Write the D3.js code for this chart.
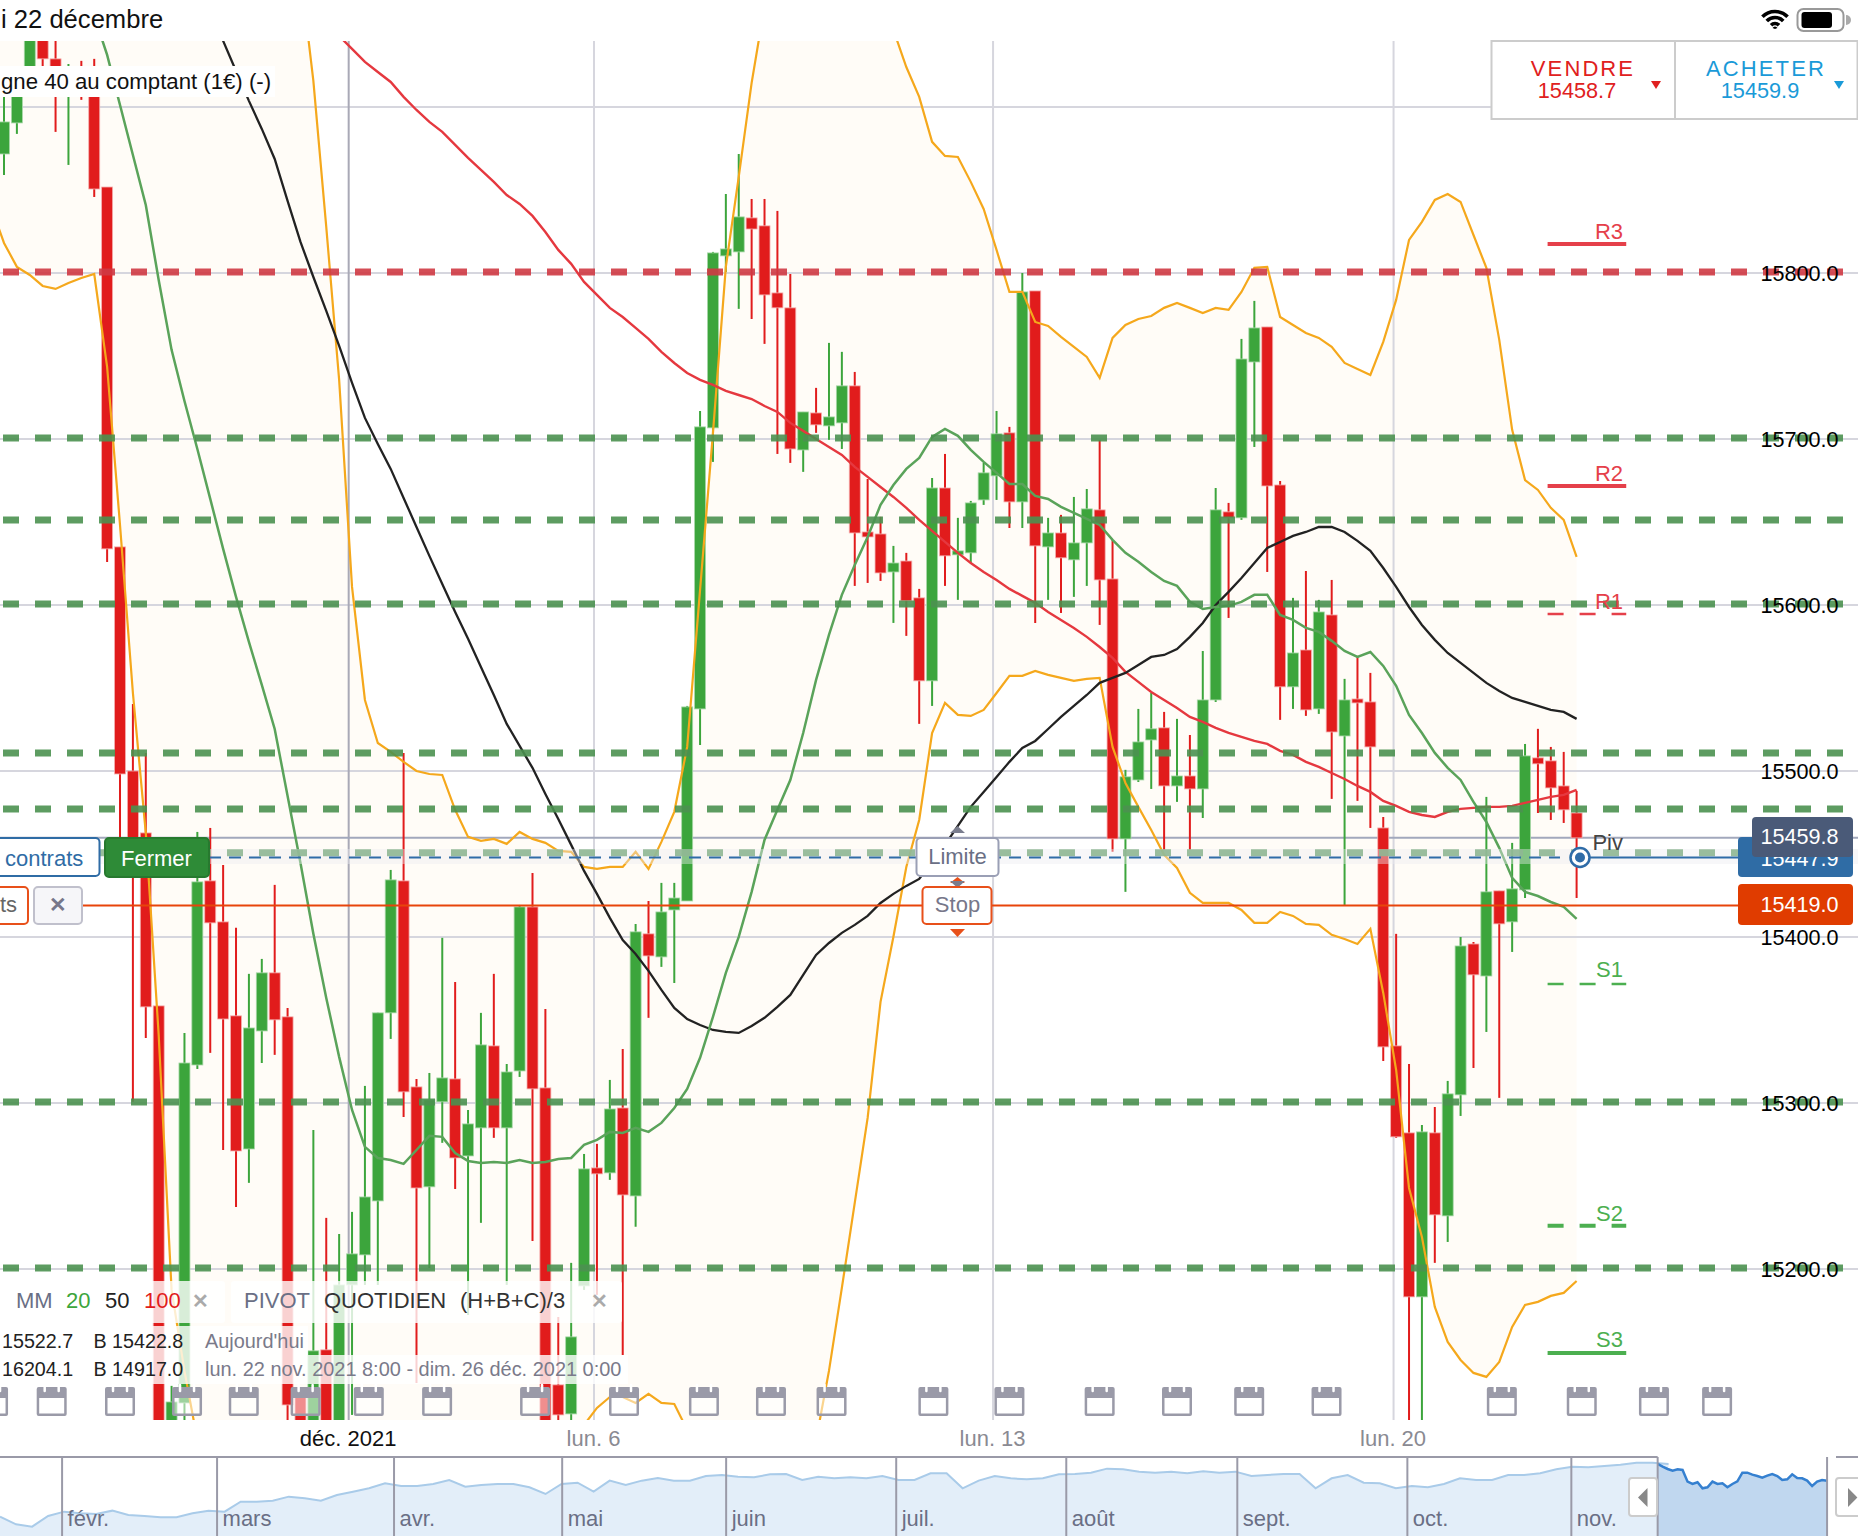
<!DOCTYPE html>
<html>
<head>
<meta charset="utf-8">
<title>Allemagne 40 au comptant</title>
<script src="https://cdn.jsdelivr.net/npm/d3@7"></script>
<style>
body { margin: 0; background: #fff; }
svg { display: block; }
text { font-family: "Liberation Sans", Arial, sans-serif; }
</style>
</head>
<body>
<svg class="chart"></svg>
<script>
// candles, left to right
var opens = [15871.7,15890.4,15922.3,15949.4,15929.0,15911.5,15921.1,15916.3,15851.8,15635.0,
15500.0,15462.7,15358.5,15097.0,15119.3,15322.9,15433.8,15409.1,15352.5,15272.3,
15343.4,15378.4,15351.9,15124.2,15091.0,15151.3,15091.0,15190.4,15208.5,15241.0,
15354.3,15433.8,15309.7,15249.5,15300.7,15314.5,15268.1,15285.0,15334.4,15285.0,
15319.3,15418.1,15309.1,15130.2,15112.7,15189.8,15260.9,15257.9,15297.0,15244.0,
15401.9,15388.0,15416.3,15421.7,15537.4,15706.7,15810.3,15812.7,15833.2,15828.4,
15788.0,15779.0,15693.4,15715.7,15707.9,15709.7,15732.0,15644.0,15642.8,15619.9,
15626.5,15604.3,15554.3,15670.5,15630.2,15631.4,15663.3,15677.8,15703.7,15662.1,
15789.2,15635.0,15643.4,15627.2,15637.4,15657.3,15615.7,15459.1,15494.6,15518.7,
15526.0,15491.0,15497.0,15489.2,15542.8,15656.1,15652.5,15746.4,15767.5,15672.3,
15550.7,15572.9,15537.4,15594.0,15521.1,15543.4,15541.6,15465.7,15334.4,15282.0,
15183.2,15282.0,15232.0,15304.9,15395.8,15376.5,15427.8,15409.1,15428.4,15507.9,
15506.1,15491.0,15474.7];
var highs = [15913.3,15917.5,15952.5,15949.4,15946.4,15925.9,15927.8,15929.0,15851.8,15635.0,
15540.4,15510.9,15358.5,15129.6,15342.2,15463.3,15465.7,15443.4,15405.5,15377.8,
15386.8,15431.4,15357.3,15124.2,15283.8,15230.8,15221.1,15234.4,15310.3,15354.3,
15440.4,15510.9,15314.5,15318.1,15399.5,15372.9,15295.8,15354.3,15377.8,15323.5,
15419.3,15438.6,15356.7,15171.1,15203.7,15269.3,15275.4,15313.9,15332.6,15407.9,
15421.7,15432.6,15432.6,15539.2,15716.9,15812.7,15847.6,15871.7,15844.6,15844.6,
15837.4,15799.4,15716.3,15730.8,15757.9,15752.5,15740.4,15675.9,15653.1,15635.6,
15631.4,15609.7,15676.5,15691.0,15652.5,15662.7,15685.6,15716.9,15707.3,15800.0,
15789.2,15652.5,15654.3,15665.1,15669.9,15699.5,15639.2,15500.7,15537.4,15547.0,
15535.6,15531.4,15521.7,15572.3,15670.5,15661.5,15760.3,15783.2,15767.5,15674.7,
15604.3,15620.5,15603.1,15615.1,15555.5,15568.7,15559.1,15472.3,15401.9,15323.5,
15286.8,15297.6,15313.3,15400.0,15397.0,15484.4,15427.8,15456.7,15516.3,15525.4,
15514.5,15511.5,15488.0];
var lows = [15859.1,15883.8,15922.3,15922.3,15885.0,15865.1,15904.3,15845.8,15625.9,15458.5,
15300.7,15339.2,15036.8,15085.0,15109.1,15320.5,15330.2,15271.7,15237.4,15251.9,
15324.1,15329.0,15106.1,15097.0,15091.0,15091.0,15091.0,15112.1,15190.4,15190.4,
15338.6,15291.6,15131.4,15200.6,15276.0,15248.2,15172.3,15227.8,15279.0,15190.4,
15315.7,15216.9,15091.0,15106.1,15106.1,15187.4,15184.4,15253.7,15148.2,15225.4,
15351.3,15382.0,15372.3,15421.7,15515.7,15686.2,15800.6,15778.4,15772.3,15757.3,
15691.0,15685.6,15680.2,15703.7,15699.5,15694.0,15611.5,15613.3,15614.5,15589.2,
15581.4,15528.4,15539.2,15611.5,15603.1,15625.3,15660.3,15663.3,15646.4,15646.4,
15589.2,15603.1,15595.2,15604.9,15611.5,15588.0,15451.3,15427.2,15493.4,15489.2,
15452.5,15481.4,15452.5,15471.7,15541.6,15592.2,15651.3,15695.2,15619.9,15530.8,
15537.4,15533.2,15534.4,15483.2,15419.3,15482.0,15465.7,15325.3,15279.0,15097.0,
15097.0,15203.7,15216.3,15292.2,15321.1,15342.8,15303.1,15391.0,15423.5,15474.7,
15470.5,15468.7,15423.5];
var closes = [15891.0,15916.3,15952.5,15929.0,15919.3,15921.1,15911.5,15850.6,15633.8,15498.2,
15446.4,15357.9,15060.9,15119.9,15324.1,15433.2,15408.5,15350.6,15271.1,15345.2,
15378.4,15350.1,15118.1,15097.0,15150.7,15091.0,15190.4,15209.1,15243.4,15354.3,
15434.4,15306.7,15248.8,15301.9,15315.1,15266.9,15287.4,15335.0,15285.0,15318.7,
15418.1,15308.5,15091.0,15112.1,15159.1,15260.3,15257.3,15296.4,15244.6,15403.1,
15388.6,15415.1,15423.5,15538.6,15707.3,15812.1,15814.5,15833.8,15826.5,15786.8,
15779.0,15694.0,15716.3,15708.5,15713.3,15732.0,15643.4,15641.0,15619.3,15625.3,
15602.5,15554.3,15670.5,15629.6,15632.6,15661.5,15679.6,15703.1,15662.1,15788.6,
15635.6,15643.4,15628.4,15637.4,15657.9,15615.1,15459.1,15496.5,15517.5,15525.4,
15491.0,15497.0,15489.2,15542.8,15657.3,15652.5,15748.2,15766.9,15671.7,15550.7,
15571.1,15536.8,15595.8,15523.5,15542.8,15541.0,15514.5,15333.8,15279.6,15183.2,
15282.6,15232.6,15305.5,15394.6,15377.2,15427.2,15407.9,15429.0,15509.1,15504.3,
15489.8,15476.6,15459.7];

// bollinger band, null where it runs out of the visible window
var bollUpper = [null,null,null,null,null,null,null,null,null,null,
null,null,null,null,null,null,null,null,null,null,
null,null,null,15981.4,15915.7,15827.8,15735.6,15610.9,15542.8,15516.9,
15511.5,15505.5,15500.0,15498.2,15497.6,15476.6,15460.3,15457.9,15459.1,15456.1,
15463.3,15459.1,15456.7,15451.9,15451.3,15442.2,15441.0,15442.2,15442.2,15451.3,
15441.0,15457.3,15475.4,15514.5,15609.1,15703.7,15803.7,15857.9,15914.5,15960.9,
16006.7,null,null,null,null,null,null,null,15970.5,15946.4,
15924.1,15906.1,15879.0,15870.5,15869.9,15854.9,15838.6,15813.9,15788.6,15788.6,
15770.5,15768.1,15761.5,15755.5,15749.4,15736.8,15760.9,15768.7,15772.3,15774.1,
15779.0,15782.0,15779.0,15775.9,15779.0,15777.8,15788.6,15803.1,15803.7,15773.5,
15768.7,15763.9,15760.9,15755.5,15745.8,15742.2,15738.6,15758.5,15783.8,15819.9,
15830.8,15844.0,15847.6,15842.8,15822.9,15803.1,15759.7,15705.5,15675.3,15669.3,
15658.5,15651.3,15629.0];
var bollLower = [15818.1,15803.7,15798.8,15792.2,15790.4,15794.0,15797.0,15799.4,15743.4,15648.2,
15547.0,15462.7,15341.0,15187.4,15138.6,15097.0,null,null,null,null,
null,null,null,null,null,null,null,null,null,null,
null,null,null,null,null,null,null,null,null,null,
null,null,null,null,null,15106.1,15116.3,15122.9,15122.9,15119.3,
15124.8,15119.3,15118.7,15103.1,null,null,null,null,null,null,
null,null,null,15097.0,15138.6,15188.6,15239.8,15291.0,15360.9,15400.1,
15442.2,15470.5,15522.9,15541.0,15533.8,15533.2,15536.8,15547.0,15557.3,15557.3,
15560.3,15557.9,15556.1,15554.3,15555.5,15556.1,15514.5,15492.8,15478.4,15464.5,
15449.5,15441.6,15426.6,15420.5,15420.5,15420.5,15416.3,15408.5,15408.5,15415.1,
15412.7,15407.9,15407.3,15401.3,15398.8,15395.8,15404.9,15366.3,15319.9,15248.8,
15219.3,15177.2,15156.1,15145.2,15137.4,15135.0,15144.0,15165.1,15178.4,15180.2,
15183.8,15185.6,15192.8];
// the candle just left of the screen edge only shows through its band value
var bollLowerLead = 15840.0;

// moving averages
var ma20 = [null,null,null,null,null,null,null,15954.9,15931.4,15901.2,
15871.1,15841.0,15795.8,15753.7,15722.9,15694.0,15663.9,15633.8,15604.9,15577.8,
15551.9,15525.3,15485.0,15444.6,15401.9,15363.3,15327.8,15295.8,15273.6,15266.9,
15265.7,15263.3,15271.7,15280.2,15279.6,15269.9,15265.1,15263.9,15264.5,15263.9,
15265.7,15263.9,15264.5,15266.3,15266.9,15274.8,15277.8,15282.6,15282.0,15285.0,
15282.6,15288.0,15297.0,15308.5,15327.2,15351.9,15378.4,15400.1,15427.2,15458.5,
15476.6,15494.6,15522.9,15554.9,15582.0,15606.1,15624.1,15641.0,15660.3,15672.3,
15682.0,15688.6,15701.3,15706.1,15701.9,15693.4,15686.2,15679.6,15672.9,15672.9,
15665.7,15663.9,15659.1,15655.5,15651.9,15648.2,15639.2,15631.4,15626.0,15619.9,
15614.5,15611.5,15601.9,15597.6,15598.8,15599.5,15601.9,15606.1,15606.1,15594.0,
15591.0,15586.2,15583.8,15578.4,15572.3,15568.7,15571.7,15563.3,15551.3,15533.8,
15522.9,15510.9,15501.9,15494.6,15481.4,15469.3,15453.7,15435.6,15427.2,15424.7,
15421.1,15418.1,15410.9];
var ma50 = [null,null,null,null,null,null,null,null,null,null,
null,null,null,null,null,null,15959.1,15939.8,15921.7,15903.7,
15886.8,15868.7,15843.4,15818.7,15797.6,15777.2,15756.1,15733.8,15712.7,15697.0,
15682.0,15664.5,15647.0,15629.6,15612.7,15595.8,15579.6,15562.7,15545.8,15528.4,
15515.1,15501.9,15486.2,15471.1,15455.5,15439.8,15426.0,15411.5,15398.2,15389.8,
15379.6,15368.1,15357.3,15350.6,15347.0,15344.0,15342.8,15342.2,15346.4,15351.3,
15357.9,15365.1,15377.2,15389.2,15396.4,15402.5,15407.3,15412.7,15420.5,15426.0,
15430.8,15435.0,15445.2,15455.5,15466.9,15478.4,15487.4,15496.4,15505.5,15513.9,
15518.1,15525.3,15532.6,15539.2,15545.8,15553.1,15556.1,15559.1,15563.9,15568.7,
15569.9,15573.5,15580.8,15589.2,15600.0,15607.9,15616.3,15625.3,15634.4,15638.0,
15641.6,15644.0,15647.0,15647.0,15644.0,15638.6,15632.6,15622.3,15610.9,15598.8,
15588.0,15579.0,15571.1,15565.1,15559.1,15553.1,15548.2,15544.0,15541.6,15539.2,
15536.8,15535.6,15531.4];
var ma100 = [null,null,null,null,null,null,null,null,null,null,
null,null,null,null,null,null,null,null,null,null,
null,null,null,null,null,null,15942.8,15935.0,15927.2,15921.1,
15915.1,15906.1,15898.2,15891.0,15885.0,15877.2,15869.3,15862.1,15854.9,15847.0,
15841.6,15834.4,15824.7,15813.9,15805.5,15794.6,15786.8,15779.0,15773.5,15766.9,
15760.3,15752.5,15745.8,15739.8,15735.6,15732.6,15729.0,15726.5,15724.1,15719.9,
15716.3,15709.7,15704.9,15700.0,15695.2,15690.4,15683.2,15677.2,15671.1,15665.1,
15658.5,15651.3,15644.6,15638.0,15631.4,15625.3,15619.9,15615.1,15609.7,15605.5,
15601.3,15595.8,15591.0,15586.2,15580.8,15574.7,15568.1,15559.7,15553.7,15547.6,
15542.8,15538.0,15532.6,15529.6,15526.0,15522.9,15520.5,15518.1,15516.3,15512.1,
15509.7,15505.5,15502.5,15498.8,15495.2,15491.0,15487.4,15482.0,15479.0,15475.4,
15473.5,15472.3,15475.4,15477.2,15477.8,15478.4,15478.4,15479.0,15480.8,15482.6,
15484.4,15485.6,15488.6];

// year overview under the chart
var navValues = [13989,13676,13581,14016,14193,14125,14098,14234,14057,14016,13962,13962,14125,14234,14193,14601,14601,14642,14805,14737,14642,14873,15009,15145,15349,15240,15240,15322,15485,15213,15281,15322,15322,15186,14914,15322,15376,15009,15458,
15281,15458,15566,15458,15458,15648,15689,15621,15594,15716,15730,15485,15621,15553,15594,15553,15648,15485,15485,15757,15757,15145,15458,15648,15553,15512,15553,15716,15730,15784,15947,15920,15825,15784,15825,15757,15838,15784,15825,
15648,15689,15730,15730,15145,15553,15689,15376,15349,15145,15240,15186,15322,15553,15485,15485,15689,15689,15757,15920,16029,16002,16056,16110,16192,16192,16138];
// selected period, read finer
var navWindowValues = [16138,16029,15934,15866,15920,15893,15417,15322,15390,15145,15186,15417,15322,15349,15186,15322,15430,15784,15784,15702,15648,15580,15662,15730,15648,15485,15512,15716,15566,15553,15458,15240,15417,15485,15458];
var navMonths = ["févr.","mars","avr.","mai","juin","juil.","août","sept.","oct.","nov."];
var navMonthAt = [3.87,13.53,24.56,35.04,45.26,55.86,66.46,77.12,87.72,97.94];
var navWindow = [103.32,113.88];

var priceTicks = [15200,15300,15400,15500,15600,15700,15800];
var gridPrices = [15200,15300,15400,15500,15600,15700,15800,15900];
var weekAt = [26.74,45.77,76.73,107.8];
var weekLabels = ["déc. 2021","lun. 6","lun. 13","lun. 20"];

// dashed levels
var levelPrices = [15800.6,15700.6,15651.2,15600.6,15510.9,15477.1,15450.7,15300.6,15200.6];
var levelReds = [15800.6];

// daily pivot points
var pivotNames = ["R3","R2","R1","Piv","S1","S2","S3"];
var pivotPrices = [15817.5,15671.7,15594.6,15448.0,15371.7,15226.0,15149.4];
var pivotDashed = ["R1","Piv","S1","S2"];
var pivotThin = ["R1","S1"];
var pivotTextGap = [5, 5, 5, 7, 7, 4.5, 6];

var positionPrice = 15447.9, stopPrice = 15419.0, lastPrice = 15459.8;

// news markers (in candle units)
var eventAt = [-0.85,3.7,9,14.2,18.6,23.4,28.3,33.6,41.2,48.1,54.3,59.5,64.2,72.1,78,85,91,96.6,102.6,116.2,122.4,128,132.9];

var width = 1858;
var height = 1536;
var RED = "#e11c1c", GREEN = "#3ca53c", ORANGE = "#f5a81c";

var chart = d3.select(".chart").attr("width", width).attr("height", height);

var x = d3.scaleLinear().domain([0, 122]).range([4, 1576.6]);
var y = d3.scaleLinear().domain([15200, 15800]).range([1269, 273]);
var nav_x = d3.scaleLinear().domain([0, 114]).range([0, 1829]);
var nav_y = d3.scaleLinear().domain([13200, 16300]).range([1536, 1460]);
var nav_w = d3.scaleLinear().domain([0, navWindowValues.length - 1])
  .range([nav_x(navWindow[0]), nav_x(navWindow[1])]);

var defs = chart.append("defs");
defs.append("clipPath").attr("id", "plot").append("rect")
  .attr("x", 0).attr("y", 41).attr("width", width).attr("height", 1379);

function label(g, str, px, py, size, color, anchor, weight) {
  return g.append("text").attr("x", px).attr("y", py)
    .attr("font-size", size).attr("fill", color)
    .attr("text-anchor", anchor || "start")
    .attr("font-weight", weight || "normal")
    .text(str);
}

function box(g, bx, by, bw, bh, fill, stroke, r) {
  return g.append("rect").attr("x", bx).attr("y", by).attr("width", bw).attr("height", bh)
    .attr("rx", r === undefined ? 4 : r).attr("fill", fill)
    .attr("stroke", stroke || "none").attr("stroke-width", 2);
}

function tri(g, pts, fill) {
  g.append("polygon").attr("points", pts.join(" ")).attr("fill", fill);
}

var plot = chart.append("g").attr("clip-path", "url(#plot)");

var idx = d3.range(opens.length);
var bandIdx = [-1].concat(idx);
function lowerAt(i) { return i < 0 ? bollLowerLead : bollLower[i]; }
function upperAt(i) { return i < 0 ? null : bollUpper[i]; }

// band fill, open ends run past the window
plot.append("path")
  .attr("fill", "#fffcf7")
  .attr("d", d3.area()
    .x(function(i) { return x(i); })
    .y0(function(i) { return lowerAt(i) === null ? 1480 : y(lowerAt(i)); })
    .y1(function(i) { return upperAt(i) === null ? -100 : y(upperAt(i)); })(bandIdx));

// grid
plot.selectAll(".hgrid").data(gridPrices).enter().append("line")
  .attr("x1", 0).attr("x2", width)
  .attr("y1", function(d) { return y(d); }).attr("y2", function(d) { return y(d); })
  .attr("stroke", "#d6d6de").attr("stroke-width", 2);
plot.selectAll(".vgrid").data(weekAt).enter().append("line")
  .attr("x1", function(d) { return x(d); }).attr("x2", function(d) { return x(d); })
  .attr("y1", 41).attr("y2", 1420)
  .attr("stroke", function(d, i) { return i == 0 ? "#a9a9b6" : "#d6d6de"; })
  .attr("stroke-width", 2);

// current price line
plot.append("line").attr("x1", 0).attr("x2", width)
  .attr("y1", y(lastPrice)).attr("y2", y(lastPrice))
  .attr("stroke", "#a2a8bc").attr("stroke-width", 2);

// candles
function isUp(i) { return closes[i] >= opens[i]; }
plot.selectAll(".wick").data(idx).enter().append("line")
  .attr("x1", function(i) { return x(i); }).attr("x2", function(i) { return x(i); })
  .attr("y1", function(i) { return y(highs[i]); }).attr("y2", function(i) { return y(lows[i]); })
  .attr("stroke", function(i) { return isUp(i) ? GREEN : RED; })
  .attr("stroke-width", 2);
plot.selectAll(".body").data(idx).enter().append("rect")
  .attr("x", function(i) { return x(i) - 5.5; })
  .attr("width", 11)
  .attr("y", function(i) { return y(Math.max(opens[i], closes[i])); })
  .attr("height", function(i) { return Math.abs(y(opens[i]) - y(closes[i])); })
  .attr("fill", function(i) { return isUp(i) ? GREEN : RED; })
  .attr("stroke", function(i) { return isUp(i) ? "#a8d8a8" : "#f5b0b0"; })
  .attr("stroke-width", 0.8);

// indicator lines
function drawLine(at, ids, color, w) {
  plot.append("path").attr("fill", "none").attr("stroke", color).attr("stroke-width", w)
    .attr("d", d3.line()
      .defined(function(i) { return at(i) !== null; })
      .x(function(i) { return x(i); })
      .y(function(i) { return y(at(i)); })(ids));
}
drawLine(upperAt, idx, ORANGE, 2.2);
drawLine(lowerAt, bandIdx, ORANGE, 2.2);
drawLine(function(i) { return ma100[i]; }, idx, "#e5383f", 2.4);
drawLine(function(i) { return ma50[i]; }, idx, "#222222", 2.3);
drawLine(function(i) { return ma20[i]; }, idx, "#5aa35a", 2.5);

// dashed levels across everything
plot.selectAll(".level").data(levelPrices).enter().append("line")
  .attr("x1", 3).attr("x2", 1846)
  .attr("y1", function(d) { return y(d); }).attr("y2", function(d) { return y(d); })
  .attr("stroke", function(d) { return levelReds.indexOf(d) >= 0 ? "#cf3a44" : "#4b9150"; })
  .attr("stroke-opacity", 0.9)
  .attr("stroke-width", 7)
  .attr("stroke-dasharray", "16 16");

// position strip and lines
chart.append("rect").attr("x", 0).attr("y", 849).attr("width", width).attr("height", 15)
  .attr("fill", "#ececf0").attr("fill-opacity", 0.42);
chart.append("line").attr("x1", 209).attr("x2", 1560)
  .attr("y1", y(positionPrice)).attr("y2", y(positionPrice))
  .attr("stroke", "#2f6ca8").attr("stroke-width", 2).attr("stroke-dasharray", "12 8");
chart.append("line").attr("x1", 1581).attr("x2", 1745)
  .attr("y1", y(positionPrice)).attr("y2", y(positionPrice))
  .attr("stroke", "#2f6ca8").attr("stroke-width", 2);
chart.append("line").attr("x1", 82).attr("x2", 1745)
  .attr("y1", y(stopPrice)).attr("y2", y(stopPrice))
  .attr("stroke", "#e8440a").attr("stroke-width", 2);

// pivot markers
pivotNames.forEach(function(name, i) {
  var py = y(pivotPrices[i]);
  var col = name[0] == "R" ? "#e5404a" : (name[0] == "S" ? "#4caf50" : "#444444");
  if (name != "Piv") {
    chart.append("line").attr("x1", x(119.75)).attr("x2", x(125.85))
      .attr("y1", py).attr("y2", py)
      .attr("stroke", col).attr("stroke-width", pivotThin.indexOf(name) >= 0 ? 2.5 : 4)
      .attr("stroke-dasharray", pivotDashed.indexOf(name) >= 0 ? "16 16" : null);
  }
  label(chart, name, 1623, py - pivotTextGap[i], 22, col, "end");
});

// news markers
eventAt.forEach(function(d) {
  var cx = x(d);
  var ic = chart.append("g").attr("transform", "translate(" + (cx - 15) + ",1385)");
  ic.append("rect").attr("x", 1).attr("y", 11).attr("width", 28).attr("height", 19)
    .attr("fill", "#ffffff").attr("fill-opacity", 0.5);
  ic.append("path").attr("fill", "#9a9aa8")
    .attr("d", "M2 2h26a2 2 0 0 1 2 2v25a2 2 0 0 1 -2 2h-26a2 2 0 0 1 -2 -2v-25a2 2 0 0 1 2 -2z M2.5 13v15.5h25v-15.5z")
    .attr("fill-rule", "evenodd");
  ic.selectAll(".ring").data([8, 22]).enter().append("line")
    .attr("x1", function(r) { return r; }).attr("x2", function(r) { return r; })
    .attr("y1", 0).attr("y2", 6)
    .attr("stroke", "#ffffff").attr("stroke-width", 2.5).attr("stroke-linecap", "round");
});

// legend rows over the candles
var legend = chart.append("g");
box(legend, 0, 1281, 225, 42, "#ffffff", null, 3).attr("fill-opacity", 0.8);
box(legend, 231, 1281, 391, 42, "#ffffff", null, 3).attr("fill-opacity", 0.8);
box(legend, 0, 1326, 308, 29, "#ffffff", null, 0).attr("fill-opacity", 0.8);
box(legend, 0, 1355, 628, 29, "#ffffff", null, 0).attr("fill-opacity", 0.8);
label(legend, "MM", 16, 1308, 22, "#6a6f85");
label(legend, "20", 66, 1308, 22, "#3ca53c");
label(legend, "50", 105, 1308, 22, "#222222");
label(legend, "100", 144, 1308, 22, "#e11c1c");
label(legend, "✕", 200, 1308, 20, "#aaaaaa", "middle", "bold");
label(legend, "PIVOT", 244, 1308, 22, "#6a6f85");
label(legend, "QUOTIDIEN", 324, 1308, 22, "#333333");
label(legend, "(H+B+C)/3", 460, 1308, 22, "#333333");
label(legend, "✕", 599, 1308, 20, "#aaaaaa", "middle", "bold");
label(legend, "15522.7", 2, 1348, 19.7, "#222222");
label(legend, "B 15422.8", 93.5, 1348, 19.7, "#222222");
label(legend, "Aujourd'hui", 205, 1348, 19.9, "#7a7a8a");
label(legend, "16204.1", 2, 1376, 19.7, "#222222");
label(legend, "B 14917.0", 93.5, 1376, 19.7, "#222222");
label(legend, "lun. 22 nov. 2021 8:00 - dim. 26 déc. 2021 0:00", 205, 1376, 19.95, "#7a7a8a");

// title strip on top of the chart
chart.append("rect").attr("x", 0).attr("y", 66).attr("width", 275).attr("height", 31).attr("fill", "#fff");
label(chart, "gne 40 au comptant (1€) (-)", 1, 89, 22.2, "#111111");

// status bar
label(chart, "i 22 décembre", 1, 28, 25.6, "#111111");
var wifi = chart.append("g").attr("transform", "translate(1775,29)");
[17.5, 11.5, 5.5].forEach(function(r) {
  wifi.append("path").attr("fill", "none").attr("stroke", "#000").attr("stroke-width", 3.6)
    .attr("d", d3.arc().innerRadius(r).outerRadius(r).startAngle(-0.8).endAngle(0.8)());
});
wifi.append("path").attr("fill", "#000")
  .attr("d", d3.arc().innerRadius(0).outerRadius(2.6).startAngle(-1.2).endAngle(1.2)());
box(chart, 1797.5, 9, 46, 22, "#fff", "#999999", 6);
box(chart, 1801.5, 12, 30.5, 16, "#000", null, 3);
chart.append("path").attr("fill", "#aaaaaa").attr("d", "M1846 15 a5 5 0 0 1 0 10 z");

// sell and buy box
box(chart, 1491.5, 41, 366, 78, "#fff", "#cccccc", 0);
chart.append("line").attr("x1", 1675).attr("x2", 1675).attr("y1", 41).attr("y2", 119)
  .attr("stroke", "#cccccc").attr("stroke-width", 2);
label(chart, "VENDRE", 1583, 76, 22, "#e02020", "middle").attr("letter-spacing", 2.1);
label(chart, "15458.7", 1577, 98, 21.7, "#e02020", "middle");
tri(chart, ["1651,81", "1661,81", "1656,89"], "#e02020");
label(chart, "ACHETER", 1766, 76, 22, "#1a9ad8", "middle").attr("letter-spacing", 2.1);
label(chart, "15459.9", 1760, 98, 21.7, "#1a9ad8", "middle");
tri(chart, ["1834,81", "1844,81", "1839,89"], "#1a9ad8");

// price axis
var y_axis = d3.axisRight(y).tickValues(priceTicks).tickFormat(d3.format(".1f")).tickSize(0).tickPadding(0);
var yg = chart.append("g").attr("transform", "translate(1760.5,0.5)").call(y_axis);
yg.select(".domain").remove();
yg.selectAll("text").attr("font-size", 21.6).attr("fill", "#000")
  .style("font-family", '"Liberation Sans", Arial, sans-serif');

// price tags on the right
box(chart, 1738, 837, 115, 40, "#2f6ca5", null);
label(chart, positionPrice.toFixed(1), 1838.5, 866, 21.6, "#fff", "end");
box(chart, 1752, 817, 101, 40, "#4a5a78", null);
label(chart, lastPrice.toFixed(1), 1838.5, 844, 21.6, "#fff", "end");
box(chart, 1738, 884, 115, 41, "#e03c00", null);
label(chart, stopPrice.toFixed(1), 1838.5, 912, 21.6, "#fff", "end");

// pivot dot
chart.append("circle").attr("cx", 1580).attr("cy", y(positionPrice)).attr("r", 9.5)
  .attr("fill", "#fff").attr("stroke", "#2f6ca8").attr("stroke-width", 2.5);
chart.append("circle").attr("cx", 1580).attr("cy", y(positionPrice)).attr("r", 5).attr("fill", "#2f6ca8");

// order buttons
box(chart, -6, 838, 105.5, 38, "#fff", "#2f6ca5");
label(chart, "contrats", 5, 866, 22, "#2f6ca5");
box(chart, 105, 838, 104, 39, "#2e8b37", "#27792f");
label(chart, "Fermer", 156.5, 866, 22, "#fff", "middle");
box(chart, -6, 887, 34, 37, "#fff", "#e8501a");
label(chart, "ts", 0, 912, 22, "#666666");
box(chart, 34, 887, 48, 37, "#f6f6f9", "#c0c0cc");
label(chart, "✕", 57.5, 912, 21, "#77778a", "middle", "bold");

tri(chart, ["950,833", "965,833", "957.5,826"], "#7a7d8e");
box(chart, 916.5, 838, 82, 38, "#fff", "#9a9fb5");
label(chart, "Limite", 957.5, 864, 22, "#6a6f85", "middle");
tri(chart, ["950,883", "965,883", "957.5,877"], "#e8501a");
tri(chart, ["950,881", "965,881", "957.5,888"], "#7a7d8e");
box(chart, 922.5, 887, 69, 37, "#fff", "#e8501a");
label(chart, "Stop", 957.5, 912, 22, "#77778a", "middle");
tri(chart, ["950,929", "965,929", "957.5,937"], "#e8501a");

// date axis
var x_axis = d3.axisBottom(x).tickValues(weekAt)
  .tickFormat(function(d, i) { return weekLabels[i]; }).tickSize(0).tickPadding(10);
var xg = chart.append("g").attr("transform", "translate(-1,1420)").call(x_axis);
xg.select(".domain").remove();
xg.selectAll("text").attr("font-size", 22).attr("fill", function(d, i) { return i == 0 ? "#111" : "#8a8a92"; })
  .style("font-family", '"Liberation Sans", Arial, sans-serif');

// overview
var nav = chart.append("g");
var navIdx = d3.range(navValues.length);
var navWinIdx = d3.range(navWindowValues.length);
nav.append("path").attr("fill", "#e3eef9")
  .attr("d", d3.area().x(function(i) { return nav_x(i); }).y0(1536)
    .y1(function(i) { return nav_y(navValues[i]); })(navIdx));
nav.append("path").attr("fill", "none").attr("stroke", "#a9cbe9").attr("stroke-width", 2)
  .attr("d", d3.line().x(function(i) { return nav_x(i); })
    .y(function(i) { return nav_y(navValues[i]); })(navIdx));
nav.append("path").attr("fill", "#c0d7ef")
  .attr("d", d3.area().x(function(i) { return nav_w(i); }).y0(1536)
    .y1(function(i) { return nav_y(navWindowValues[i]); })(navWinIdx));
nav.append("path").attr("fill", "none").attr("stroke", "#3580d0").attr("stroke-width", 2.5)
  .attr("d", d3.line().x(function(i) { return nav_w(i); })
    .y(function(i) { return nav_y(navWindowValues[i]); })(navWinIdx));
nav.append("line").attr("x1", 0).attr("x2", nav_x(navWindow[0])).attr("y1", 1457).attr("y2", 1457)
  .attr("stroke", "#9a9aa8").attr("stroke-width", 2);
nav.append("line").attr("x1", 1836).attr("x2", width).attr("y1", 1457).attr("y2", 1457)
  .attr("stroke", "#9a9aa8").attr("stroke-width", 2);
nav.selectAll(".mline").data(navMonthAt.concat(navWindow)).enter().append("line")
  .attr("x1", function(d) { return nav_x(d); }).attr("x2", function(d) { return nav_x(d); })
  .attr("y1", 1457).attr("y2", height)
  .attr("stroke", "#9a9aa8").attr("stroke-width", 2);
navMonths.forEach(function(m, i) {
  label(nav, m, nav_x(navMonthAt[i]) + 5.5, 1526, 22, "#6a6f85");
});
box(nav, 1629, 1478, 28, 38, "#fff", "#cccccc", 3);
tri(nav, ["1647.5,1488", "1647.5,1507", "1638,1497.5"], "#888888");
box(nav, 1836, 1478, 30, 38, "#fff", "#cccccc", 3);
tri(nav, ["1848,1488", "1848,1507", "1857.4,1497.5"], "#888888");
</script>
</body>
</html>
